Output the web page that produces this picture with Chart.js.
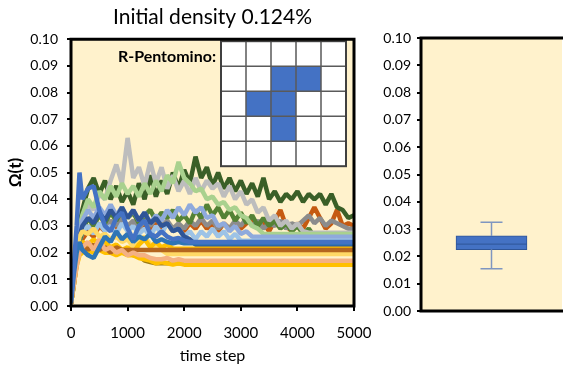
<!DOCTYPE html>
<html>
<head>
<meta charset="utf-8">
<script src="https://cdn.jsdelivr.net/npm/chart.js@4"></script>
<style>
  html, body { margin: 0; padding: 0; background: #fff; overflow: hidden; width: 563px; height: 365px; }
  #left { position: absolute; left: 0; top: 0; width: 372px; height: 365px; }
  #right { position: absolute; left: 365px; top: 0; width: 200px; height: 365px; }
</style>
</head>
<body>
<div id="left"><canvas id="ts"></canvas></div>
<div id="right"><canvas id="box"></canvas></div>
<script>
// time steps shared by every run (runs that freeze keep their last value to 5000)
const steps = [0, 50, 100, 150, 200, 300, 400, 500, 600, 700, 800, 900, 1000,
  1100, 1200, 1300, 1400, 1500, 1600, 1700, 1800, 1900, 2000, 2100, 2200, 2300,
  2400, 2500, 2600, 2700, 2800, 2900, 3000, 3100, 3200, 3300, 3400, 3500, 3600,
  3700, 3800, 3900, 4000, 4100, 4200, 4300, 4400, 4500, 4600, 4700, 4800, 4900, 5000];
const xTicks = [0, 1000, 2000, 3000, 4000, 5000];

const runOrange = [0.001, 0.009, 0.018, 0.022, 0.025,
  0.028, 0.026, 0.030, 0.028, 0.031, 0.029, 0.032, 0.029, 0.031, 0.028,
  0.031, 0.029, 0.032, 0.029, 0.031, 0.028, 0.030, 0.028, 0.031, 0.029,
  0.032, 0.029, 0.031, 0.028, 0.031, 0.029, 0.030, 0.029, 0.031, 0.033,
  0.029, 0.031, 0.028, 0.032, 0.036, 0.030, 0.028, 0.031, 0.029, 0.033,
  0.037, 0.033, 0.029, 0.031, 0.036, 0.030, 0.031, 0.030];
const runMidGray = [0.001, 0.009, 0.018, 0.024, 0.027,
  0.030, 0.028, 0.031, 0.029, 0.032, 0.030, 0.033, 0.030, 0.032, 0.029,
  0.032, 0.030, 0.033, 0.030, 0.032, 0.029, 0.031, 0.029, 0.032, 0.030,
  0.033, 0.030, 0.032, 0.029, 0.031, 0.029, 0.032, 0.030, 0.033, 0.030,
  0.032, 0.029, 0.031, 0.030, 0.032, 0.029, 0.031, 0.030, 0.032, 0.034,
  0.031, 0.033, 0.030, 0.032, 0.031, 0.030, 0.029, 0.029];
const runGreen = [0.001, 0.008, 0.016, 0.024, 0.028,
  0.033, 0.030, 0.034, 0.031, 0.035, 0.032, 0.036, 0.033, 0.035, 0.031,
  0.034, 0.036, 0.032, 0.035, 0.033, 0.036, 0.032, 0.034, 0.031, 0.036,
  0.033, 0.038, 0.034, 0.037, 0.033, 0.036, 0.032, 0.035, 0.031, 0.034,
  0.030, 0.033, 0.030, 0.032, 0.029, 0.031, 0.028, 0.030, 0.027, 0.029,
  0.026, 0.027, 0.0255];
const runDarkGreen = [0.002, 0.010, 0.020, 0.030, 0.036,
  0.044, 0.048, 0.042, 0.047, 0.040, 0.045, 0.039, 0.043, 0.038, 0.046,
  0.040, 0.049, 0.041, 0.047, 0.042, 0.050, 0.044, 0.051, 0.046, 0.056,
  0.048, 0.052, 0.045, 0.050, 0.044, 0.048, 0.043, 0.047, 0.042, 0.046,
  0.041, 0.048, 0.040, 0.043, 0.039, 0.042, 0.040, 0.043, 0.039, 0.042,
  0.040, 0.042, 0.038, 0.042, 0.037, 0.036, 0.033, 0.034];
const runGray = [0.002, 0.010, 0.020, 0.028, 0.033,
  0.038, 0.036, 0.042, 0.040, 0.047, 0.053, 0.046, 0.063, 0.048, 0.052,
  0.045, 0.054, 0.046, 0.052, 0.044, 0.049, 0.043, 0.047, 0.042, 0.048,
  0.043, 0.047, 0.044, 0.046, 0.041, 0.045, 0.040, 0.043, 0.038, 0.040,
  0.035, 0.037, 0.032, 0.034, 0.030, 0.032, 0.029, 0.031, 0.028, 0.0275];
const runLightGreen = [0.002, 0.012, 0.022, 0.030, 0.034,
  0.040, 0.037, 0.043, 0.040, 0.045, 0.041, 0.046, 0.042, 0.045, 0.041,
  0.046, 0.042, 0.047, 0.043, 0.049, 0.046, 0.054, 0.048, 0.046, 0.043,
  0.044, 0.040, 0.041, 0.038, 0.039, 0.036, 0.037, 0.034, 0.033, 0.030,
  0.029, 0.027];
const runPeriwinkle = [0.002, 0.010, 0.019, 0.028, 0.032,
  0.036, 0.033, 0.037, 0.034, 0.038, 0.034, 0.037, 0.033, 0.036, 0.032,
  0.035, 0.031, 0.034, 0.032, 0.036, 0.033, 0.037, 0.034, 0.038, 0.035,
  0.037, 0.033, 0.034, 0.030, 0.031, 0.028, 0.030, 0.027, 0.028, 0.026];
const runLightBlue = [0.002, 0.012, 0.022, 0.026, 0.028,
  0.030, 0.027, 0.031, 0.028, 0.030, 0.027, 0.031, 0.028, 0.030, 0.027,
  0.029, 0.026, 0.030, 0.027, 0.031, 0.028, 0.029, 0.026, 0.028, 0.025,
  0.028, 0.026, 0.029, 0.026, 0.028, 0.025, 0.027, 0.0245];
const runDarkBlue = [0.001, 0.010, 0.020, 0.026, 0.030,
  0.033, 0.031, 0.035, 0.032, 0.036, 0.033, 0.037, 0.033, 0.036, 0.032,
  0.035, 0.031, 0.033, 0.030, 0.031, 0.028, 0.029, 0.026, 0.025, 0.023];
const runBlue = [0.002, 0.015, 0.030, 0.050, 0.040,
  0.044, 0.045, 0.036, 0.030, 0.028, 0.033, 0.035, 0.029, 0.025, 0.030,
  0.032, 0.027, 0.026, 0.028, 0.026, 0.025, 0.0255, 0.0245, 0.024];
const runMidBlue = [0.001, 0.012, 0.020, 0.024, 0.021,
  0.019, 0.018, 0.022, 0.026, 0.024, 0.028, 0.025, 0.027, 0.024, 0.026,
  0.025, 0.027, 0.024, 0.025, 0.024, 0.0235, 0.024, 0.0235];
const runRust = [0.001, 0.009, 0.017, 0.021, 0.023,
  0.021, 0.023, 0.021, 0.022, 0.020, 0.022, 0.021];
const runYellow = [0.001, 0.010, 0.020, 0.026, 0.028,
  0.027, 0.029, 0.026, 0.027, 0.025, 0.026, 0.024, 0.025, 0.022, 0.024,
  0.026, 0.023, 0.022, 0.021, 0.0195];
const runPeach = [0.001, 0.008, 0.015, 0.020, 0.022,
  0.024, 0.021, 0.025, 0.021, 0.022, 0.020, 0.021, 0.019, 0.020, 0.019,
  0.019, 0.018, 0.0175, 0.0175, 0.018, 0.017, 0.0175, 0.017];
const runGold = [0.001, 0.009, 0.017, 0.022, 0.024,
  0.023, 0.025, 0.023, 0.024, 0.022, 0.023, 0.021, 0.022, 0.020, 0.023,
  0.025, 0.022, 0.024, 0.022, 0.023, 0.0215];
const runOlive = [0.001, 0.008, 0.016, 0.020, 0.021,
  0.020, 0.022, 0.021, 0.022, 0.020, 0.021, 0.020, 0.020, 0.019, 0.019,
  0.017, 0.0165, 0.016];
const runGoldLow = [0.001, 0.008, 0.015, 0.019, 0.020,
  0.021, 0.020, 0.021, 0.020, 0.020, 0.019, 0.020, 0.019, 0.019, 0.018,
  0.0175, 0.017, 0.016, 0.0165, 0.016, 0.0155, 0.016, 0.0155];

// back to front
const runs = [
  [runOrange, '#C55A11'], [runMidGray, '#8C8C8C'], [runGreen, '#548235'],
  [runDarkGreen, '#3A5F27'], [runGray, '#BDBDBD'], [runLightGreen, '#A9D18E'],
  [runPeriwinkle, '#8FAADC'], [runLightBlue, '#9DC3E6'], [runDarkBlue, '#2F5597'],
  [runYellow, '#FFD966'], [runGold, '#FFC000'], [runOlive, '#9C7A16'],
  [runGoldLow, '#FFC000'], [runRust, '#B4661E'], [runPeach, '#F4B183'],
  [runMidBlue, '#2E75B6'], [runBlue, '#4472C4']
];

// box plot of final values
const boxLabels = [''];
const boxQuartiles = [0.0225, 0.0245, 0.0275]; // q1, median, q3
const boxWhiskers = [0.0155, 0.0325];
const yTicks = [0, 0.01, 0.02, 0.03, 0.04, 0.05, 0.06, 0.07, 0.08, 0.09, 0.10];

// R-pentomino cells (row, col) on a 5x5 board
const pentomino = [[1, 2], [1, 3], [2, 1], [2, 2], [3, 2]];

const FONT = 'Lato, "Open Sans", sans-serif';
const PANEL = '#FFF2CC';

const panelBg = {
  id: 'panelBg',
  beforeDatasetsDraw(chart) {
    const { ctx, chartArea: a } = chart;
    ctx.save();
    ctx.fillStyle = PANEL;
    ctx.fillRect(a.left, a.top, a.right - a.left, a.bottom - a.top);
    ctx.restore();
  }
};

const frame = {
  id: 'frame',
  afterDraw(chart, args, opts) {
    const { ctx, chartArea: a } = chart;
    ctx.save();
    ctx.strokeStyle = '#000';
    ctx.lineWidth = 3;
    ctx.beginPath();
    if (opts.open) {
      ctx.moveTo(a.right + 5, a.top);
      ctx.lineTo(a.left, a.top);
      ctx.lineTo(a.left, a.bottom);
      ctx.lineTo(a.right + 5, a.bottom);
    } else {
      ctx.rect(a.left, a.top, a.right - a.left, a.bottom - a.top);
    }
    ctx.stroke();
    ctx.restore();
  }
};

const inset = {
  id: 'inset',
  afterDatasetsDraw(chart) {
    const { ctx, chartArea: a } = chart;
    const cell = 25, n = 5;
    const x0 = a.right - 133, y0 = a.top + 2;
    ctx.save();
    ctx.fillStyle = '#fff';
    ctx.fillRect(x0, y0, cell * n, cell * n);
    ctx.fillStyle = '#4472C4';
    pentomino.forEach(([r, c]) => ctx.fillRect(x0 + c * cell, y0 + r * cell, cell, cell));
    ctx.strokeStyle = '#5a5a5a';
    ctx.lineWidth = 1.5;
    ctx.beginPath();
    for (let i = 1; i < n; i++) {
      ctx.moveTo(x0 + i * cell, y0); ctx.lineTo(x0 + i * cell, y0 + n * cell);
      ctx.moveTo(x0, y0 + i * cell); ctx.lineTo(x0 + n * cell, y0 + i * cell);
    }
    ctx.stroke();
    ctx.strokeStyle = '#404040';
    ctx.lineWidth = 2;
    ctx.strokeRect(x0, y0, cell * n, cell * n);
    ctx.fillStyle = '#000';
    ctx.font = 'bold 16px ' + FONT;
    ctx.textAlign = 'right';
    ctx.textBaseline = 'middle';
    ctx.fillText('R-Pentomino:', x0 - 5, y0 + 16);
    ctx.restore();
  }
};

const whiskers = {
  id: 'whiskers',
  afterDatasetsDraw(chart) {
    const { ctx } = chart;
    const y = chart.scales.y;
    const bar = chart.getDatasetMeta(0).data[0];
    const cx = bar.x, half = bar.width / 2, cap = 11;
    const [q1, med, q3] = boxQuartiles;
    const [lo, hi] = boxWhiskers;
    ctx.save();
    ctx.strokeStyle = '#7F96C0';
    ctx.lineWidth = 1.5;
    ctx.beginPath();
    ctx.moveTo(cx, y.getPixelForValue(q3)); ctx.lineTo(cx, y.getPixelForValue(hi));
    ctx.moveTo(cx - cap, y.getPixelForValue(hi)); ctx.lineTo(cx + cap, y.getPixelForValue(hi));
    ctx.moveTo(cx, y.getPixelForValue(q1)); ctx.lineTo(cx, y.getPixelForValue(lo));
    ctx.moveTo(cx - cap, y.getPixelForValue(lo)); ctx.lineTo(cx + cap, y.getPixelForValue(lo));
    ctx.stroke();
    ctx.strokeStyle = '#2F5597';
    ctx.lineWidth = 1;
    ctx.beginPath();
    ctx.moveTo(cx - half, y.getPixelForValue(med)); ctx.lineTo(cx + half, y.getPixelForValue(med));
    ctx.stroke();
    ctx.restore();
  }
};

const yAxis = (width, pad) => ({
  min: 0, max: 0.1,
  afterFit: s => { s.width = width; s.paddingTop = 0; s.paddingBottom = 0; },
  afterBuildTicks: s => { s.ticks = yTicks.map(v => ({ value: v })); },
  ticks: { color: '#000', padding: pad, font: { family: FONT, size: 14 }, callback: v => v.toFixed(2) },
  grid: { drawOnChartArea: false, drawTicks: true, tickLength: 4, color: '#000', lineWidth: 2 },
  border: { display: false }
});

new Chart(document.getElementById('ts'), {
  type: 'line',
  data: {
    datasets: runs.slice().reverse().map(([vals, color]) => {
      const pts = vals.map((v, i) => ({ x: steps[i], y: v }));
      if (vals.length < steps.length) pts.push({ x: steps[steps.length - 1], y: vals[vals.length - 1] });
      return { data: pts, borderColor: color, borderWidth: 4.5, borderJoinStyle: 'bevel', pointRadius: 0, tension: 0, fill: false };
    })
  },
  options: {
    responsive: true,
    maintainAspectRatio: false,
    animation: false,
    events: [],
    layout: { padding: { top: 0, right: 18, left: 0, bottom: 0 } },
    plugins: {
      legend: { display: false },
      tooltip: { enabled: false },
      title: {
        display: true, fullSize: false, text: 'Initial density 0.124%', color: '#000',
        font: { family: FONT, size: 21, weight: 'normal' }, padding: { top: 5, bottom: 9 }
      }
    },
    scales: {
      x: {
        type: 'linear', min: 0, max: 5000,
        afterFit: s => { s.height = 59; s.paddingLeft = 0; s.paddingRight = 0; },
        afterBuildTicks: s => { s.ticks = xTicks.map(v => ({ value: v })); },
        ticks: { color: '#000', padding: 13, font: { family: FONT, size: 15 }, callback: v => String(v) },
        grid: { drawOnChartArea: false, drawTicks: true, tickLength: 5, color: '#000', lineWidth: 2 },
        border: { display: false },
        title: { display: true, text: 'time step', color: '#000', font: { family: FONT, size: 16 }, padding: { top: 0, bottom: 0 } }
      },
      y: Object.assign(yAxis(71, 9), {
        title: { display: true, text: 'Ω(t)', color: '#000', font: { family: FONT, size: 17, weight: 'bold' }, padding: { top: 5, bottom: 0 } }
      })
    }
  },
  plugins: [panelBg, inset, frame]
});

new Chart(document.getElementById('box'), {
  type: 'bar',
  data: {
    labels: boxLabels,
    datasets: [{
      data: [[boxQuartiles[0], boxQuartiles[2]]],
      backgroundColor: '#4472C4', borderColor: '#2F5597', borderWidth: 1,
      borderSkipped: false, barThickness: 71
    }]
  },
  options: {
    responsive: true,
    maintainAspectRatio: false,
    animation: false,
    events: [],
    layout: { padding: { top: 38, right: 3, left: 0, bottom: 54 } },
    plugins: { legend: { display: false }, tooltip: { enabled: false } },
    scales: {
      x: { display: false },
      y: yAxis(56, 6)
    }
  },
  plugins: [panelBg, whiskers, { id: 'frameOpen', afterDraw: c => frame.afterDraw(c, {}, { open: true }) }]
});
</script>
</body>
</html>
